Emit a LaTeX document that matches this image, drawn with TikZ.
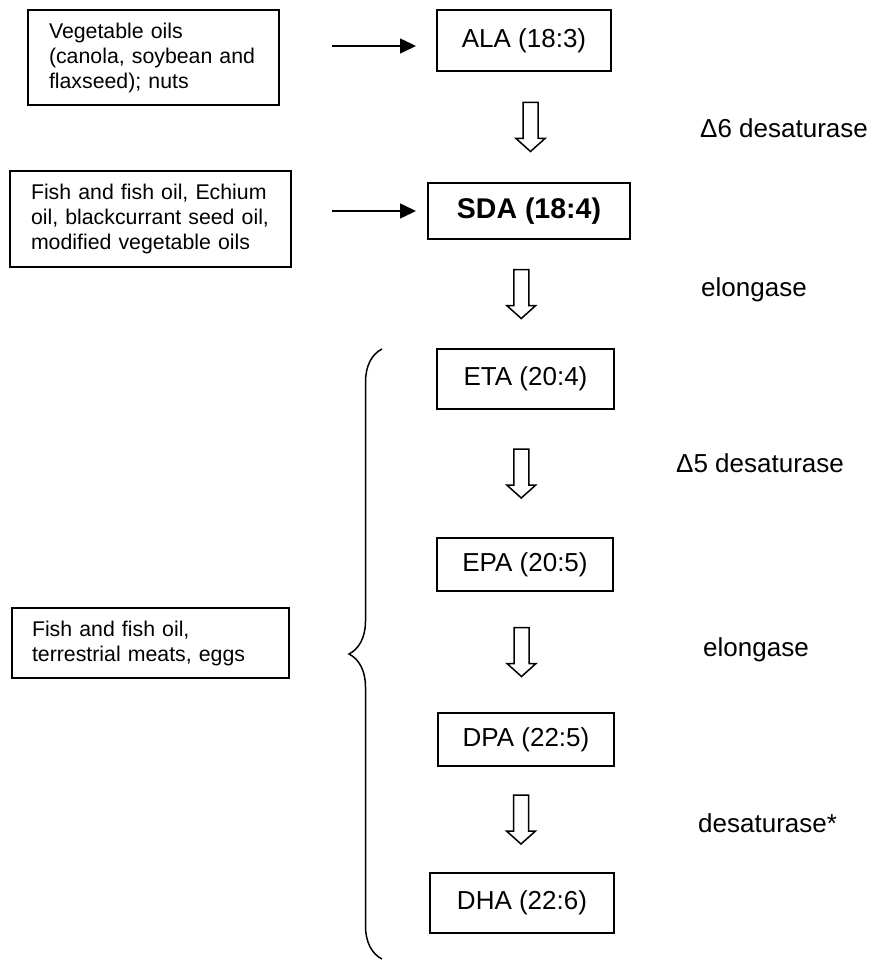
\documentclass[tikz,border=0pt]{standalone}
\usepackage{fontspec}
\setmainfont{Liberation Sans}
\usepackage{tikz}
\usetikzlibrary{arrows.meta,calc,positioning,decorations.pathreplacing}
\tikzset{feed/.style={-{Triangle[length=16pt,width=15pt]},line width=1.5pt}}
\tikzset{%
    flowdown/.pic={\draw[line width=1.5pt,line join=miter] (-7.5,-24.5) -- (7.5,-24.5) -- (7.5,11.5) -- (14.5,11.5) -- (0,24.5) -- (-14.5,11.5) -- (-7.5,11.5) -- cycle;},
}
\tikzstyle{acid}=[draw, line width=1.5pt, inner sep=0pt, font=\fontsize{26}{31}\selectfont]
\tikzstyle{diet}=[draw, line width=1.5pt, inner xsep=21pt, inner ysep=0pt, align=left, font=\fontsize{21.3}{25}\selectfont]
\tikzstyle{enz}=[inner sep=0pt, anchor=west, font=\fontsize{26}{31}\selectfont]

\begin{document}
\begin{tikzpicture}[x=1pt,y=-1pt]
    \fill[white] (0,0) rectangle (873,960);
    \useasboundingbox (0,0) rectangle (873,960);
    \node [diet, text width=209pt, minimum height=95pt] (veg) at (153.5,57.5) {Vegetable oils\\(canola, soybean and\\flaxseed); nuts};
    \node [acid, minimum width=174pt, minimum height=61pt] (ala) at (524,40.5) {ALA (18:3)};
    \node [diet, text width=239pt, minimum height=96pt] (fish) at (150.5,219) {Fish and fish oil, Echium\\oil, blackcurrant seed oil,\\modified vegetable oils};
    \node [acid, minimum width=202pt, minimum height=56pt, font=\fontsize{28.5}{33}\selectfont\bfseries] (sda) at (529,211) {SDA (18:4)};
    \node [acid, minimum width=177pt, minimum height=60pt] (eta) at (525.5,379) {ETA (20:4)};
    \node [acid, minimum width=176pt, minimum height=53pt] (epa) at (525,564.5) {EPA (20:5)};
    \node [acid, minimum width=176pt, minimum height=53pt] (dpa) at (526,739.5) {DPA (22:5)};
    \node [acid, minimum width=184pt, minimum height=60pt] (dha) at (522,903) {DHA (22:6)};
    \node [diet, text width=237pt, inner xsep=20pt, minimum height=70pt] (meat) at (150.5,643) {Fish and fish oil,\\terrestrial meats, eggs};
    \coordinate (in1) at (332,46);
    \coordinate (out1) at (416,46);
    \coordinate (in2) at (332,211);
    \coordinate (out2) at (416,211);
    \draw[feed] (in1) -- (out1);
    \draw[feed] (in2) -- (out2);
    \foreach \a/\b/\s in {ala/sda/4,sda/eta/-6,eta/epa/-4,epa/dpa/-4,dpa/dha/-3}
        \pic at ($(\a.south)!.5!(\b.north)+(\s,0)$) {flowdown};
    \node [enz] (d6) at (700,128) {Δ6 desaturase};
    \node [enz] (el1) at (701,290) {elongase};
    \node [enz] (d5) at (676,463) {Δ5 desaturase};
    \node [enz] (el2) at (703,650) {elongase};
    \node [enz] (ds) at (698,823) {desaturase*};
    \coordinate (bb) at (382,959);
    \coordinate (bt) at (382,349);
    \draw[line width=1.5pt, decorate, decoration={brace, amplitude=33pt}] (bb) -- (bt);
\end{tikzpicture}
\end{document}
